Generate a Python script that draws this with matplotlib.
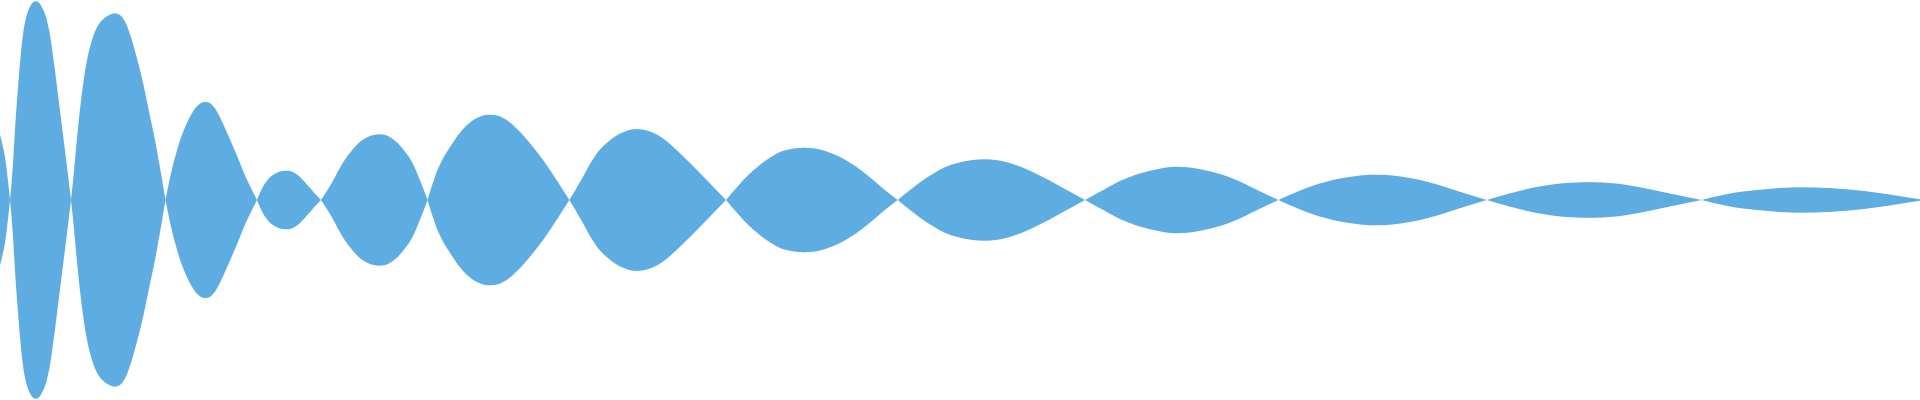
import numpy as np
import matplotlib
matplotlib.use("Agg")
import matplotlib.pyplot as plt
from matplotlib.path import Path
from matplotlib.patches import PathPatch

# Upper envelope of the waveform (x in px, amplitude in px)
x_env = [0, 3.3, 6.7, 10,
         12.3, 15, 18.3, 21.7, 25, 30, 35.7, 41.7, 48.3, 53.3, 58.3, 63.3, 68.3, 71,
         73.3, 76.7, 81.7, 86.7, 91.7, 96.7, 103.3, 115, 123.3, 130, 136.7, 143.3, 150, 156.7, 165.5,
         170, 175, 180, 185, 191.7, 198.3, 206, 213.3, 220, 226.7, 233.3, 240, 246.7, 257,
         260, 266.7, 275, 285, 295, 305, 313.3, 321,
         330, 340, 350, 363.3, 380, 393.3, 406.7, 416.7, 427.5,
         433.3, 441.7, 450, 460, 470, 480, 491, 503.3, 516.7, 530, 543.3, 556.7, 569.3,
         580, 593.3, 606.7, 623.3, 640, 660, 680, 700, 713.3, 726,
         740, 756.7, 773.3, 786.7, 810, 830, 850, 870, 886.7, 897.7,
         913.3, 933.3, 953.3, 985, 1013.3, 1043.3, 1066.7, 1085,
         1103.3, 1126.7, 1160, 1180, 1206.7, 1233.3, 1256.7, 1278.3,
         1300, 1326.7, 1353.3, 1378.3, 1406.7, 1433.3, 1460, 1486.7,
         1500, 1520, 1540, 1572, 1610, 1640, 1666.7, 1701.7,
         1726.7, 1756.7, 1786.7, 1816.7, 1850, 1883.3, 1920]
amp_env = [65, 53, 33, 0,
           23, 73, 117, 157, 180, 195, 200, 195, 177, 143, 103, 63, 23, 0,
           20, 60, 107, 140, 160, 173, 182, 188, 183, 167, 143, 117, 83, 53, 0,
           23, 43, 60, 73, 87, 96, 99, 95, 83, 68, 53, 37, 20, 0,
           8, 20, 27, 30, 28, 18, 8, 0,
           13, 33, 48, 62, 67, 62, 47, 30, 0,
           20, 40, 53, 68, 78, 84, 86, 83, 72, 57, 40, 20, 0,
           17, 43, 58, 69, 72, 65, 47, 27, 13, 0,
           17, 33, 45, 51, 53, 48, 38, 23, 8, 0,
           13, 27, 37, 42, 37, 23, 10, 0,
           10, 23, 32, 34, 30, 22, 10, 0,
           10, 19, 24, 26, 23, 17, 8, 0,
           4, 9.3, 14, 18, 17.7, 13, 7, 0,
           6.7, 10, 12.7, 12.7, 10.7, 6.7, 0.7]


def smooth_path(xs, ys):
    # quadratic b-spline through the read points, kept sharp at the nodes
    pts = list(zip(xs, ys))
    breaks = [0] + [i for i in range(1, len(pts) - 1) if ys[i] == 0] + [len(pts) - 1]
    verts, codes = [], []
    for a, b in zip(breaks[:-1], breaks[1:]):
        if b - a == 1:
            verts.append(pts[b]); codes.append(Path.LINETO)
            continue
        for i in range(a + 1, b - 1):
            mid = ((pts[i][0] + pts[i + 1][0]) / 2, (pts[i][1] + pts[i + 1][1]) / 2)
            verts += [pts[i], mid]; codes += [Path.CURVE3, Path.CURVE3]
        verts += [pts[b - 1], pts[b]]; codes += [Path.CURVE3, Path.CURVE3]
    return verts, codes


x = np.array(x_env, dtype=float)
a = np.array(amp_env, dtype=float)

up_v, up_c = smooth_path(x, a)
lo_v, lo_c = smooth_path(x[::-1], -a[::-1])

verts = [(x[0], a[0])] + up_v + [(x[-1], -a[-1])] + lo_v + [(x[0], a[0])]
codes = [Path.MOVETO] + up_c + [Path.LINETO] + lo_c + [Path.CLOSEPOLY]

fig = plt.figure(figsize=(19.2, 4), dpi=100)
ax = fig.add_axes([0, 0, 1, 1])
ax.add_patch(PathPatch(Path(verts, codes), facecolor="#5dade2", edgecolor="none"))
ax.set_xlim(0, 1920)
ax.set_ylim(-200, 200)
ax.axis("off")
fig.savefig("out.png", dpi=100, facecolor="white")
